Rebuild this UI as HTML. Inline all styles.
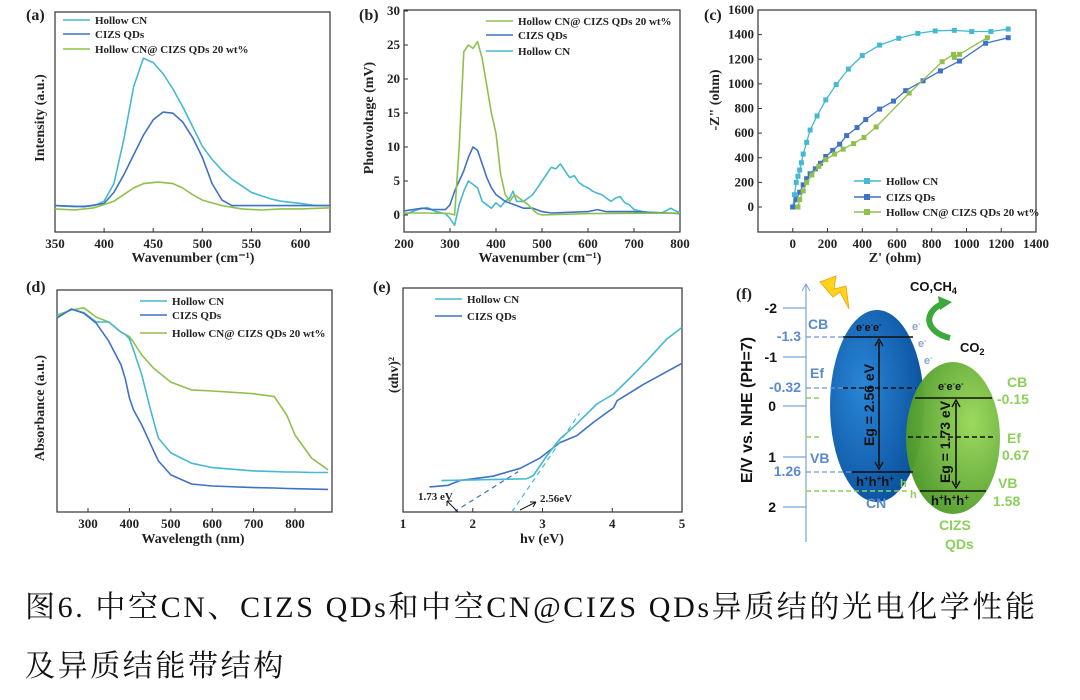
<!DOCTYPE html>
<html><head><meta charset="utf-8">
<style>
html,body{margin:0;padding:0;background:#fff;}
body{width:1080px;height:700px;overflow:hidden;position:relative;}
svg{position:absolute;left:0;top:0;}
.cap{position:absolute;left:25px;font-family:"Liberation Serif","Noto Serif CJK SC",serif;font-size:30px;color:#111;white-space:nowrap;letter-spacing:2.6px;}
</style></head>
<body>
<svg id="fig" width="1080" height="580" viewBox="0 0 1080 580" font-family="Liberation Serif, serif">
<defs>
<radialGradient id="gb" cx="0.35" cy="0.4" r="0.7"><stop offset="0" stop-color="#2a86d8"/><stop offset="1" stop-color="#0a4f9a"/></radialGradient>
<radialGradient id="gg" cx="0.7" cy="0.4" r="0.7"><stop offset="0" stop-color="#9ad85a"/><stop offset="1" stop-color="#4f9a2a"/></radialGradient>
</defs>
<g id="panels"></g>
<g font-family="Liberation Sans, sans-serif" font-weight="bold">
<line x1="806" y1="542" x2="806" y2="285" stroke="#7aa4d8" stroke-width="1.2"/>
<path d="M802,291 L806,284 L810,291" fill="none" stroke="#7aa4d8"/>
<g stroke="#7aa4d8" stroke-width="1.2">
<line x1="783" y1="308" x2="806" y2="308"/><line x1="783" y1="357" x2="806" y2="357"/><line x1="783" y1="406" x2="806" y2="406"/><line x1="783" y1="457" x2="806" y2="457"/><line x1="783" y1="507" x2="806" y2="507"/>
</g>
<g font-size="14" fill="#111" text-anchor="end">
<text x="777" y="313">-2</text><text x="777" y="362">-1</text><text x="776" y="411">0</text><text x="776" y="462">1</text><text x="776" y="512">2</text>
</g>
<text transform="translate(752,410) rotate(-90)" font-size="16" text-anchor="middle" fill="#111">E/V vs. NHE (PH=7)</text>
<text x="736" y="299" font-family="Liberation Serif, serif" font-size="16" fill="#222">(f)</text>
<polygon points="820,282 836,276 834,289 846,286 849,309 840,292 833,297" fill="#ffd21c" stroke="#f0a000" stroke-width="0.8"/>
<ellipse cx="877" cy="406" rx="47" ry="96" fill="url(#gb)"/>
<ellipse cx="953" cy="438" rx="47" ry="76" fill="url(#gg)" opacity="0.97"/>
<text x="910" y="291" font-size="13" fill="#111">CO,CH<tspan font-size="9" dy="3">4</tspan></text>
<path d="M944,303 C922,312 925,332 950,338" fill="none" stroke="#3aa83a" stroke-width="6"/>
<polygon points="938,296 952,302 940,310" fill="#3aa83a"/>
<text x="960" y="352" font-size="13" fill="#111">CO<tspan font-size="9" dy="3">2</tspan></text>
<g stroke="#6a98d6" stroke-width="1.2" stroke-dasharray="5,3">
<line x1="806" y1="337" x2="843" y2="337"/><line x1="806" y1="388" x2="843" y2="388"/><line x1="806" y1="472" x2="852" y2="472"/>
</g>
<g stroke="#8cd05a" stroke-width="1.4" stroke-dasharray="5,3">
<line x1="806" y1="398" x2="822" y2="398"/><line x1="806" y1="437" x2="822" y2="437"/><line x1="806" y1="491" x2="910" y2="491"/>
</g>
<g stroke="#111" stroke-width="1.6">
<line x1="843" y1="337" x2="913" y2="337"/><line x1="852" y1="472" x2="913" y2="472"/>
<line x1="915" y1="398" x2="992" y2="398"/><line x1="920" y1="491" x2="986" y2="491"/>
<line x1="843" y1="388" x2="916" y2="388" stroke-dasharray="5,3"/><line x1="908" y1="437" x2="996" y2="437" stroke-dasharray="5,3"/>
<line x1="879" y1="342" x2="879" y2="466"/><line x1="956" y1="403" x2="956" y2="485"/>
</g>
<path d="M875,346 L879,339 L883,346 M875,462 L879,469 L883,462 M952,407 L956,400 L960,407 M952,481 L956,488 L960,481" fill="none" stroke="#111" stroke-width="1.4"/>
<text transform="translate(874,405) rotate(-90)" font-size="14" text-anchor="middle" fill="#111">Eg = 2.56 eV</text>
<text transform="translate(950,442) rotate(-90)" font-size="14" text-anchor="middle" fill="#111">Eg = 1.73 eV</text>
<g font-size="11" fill="#111"><text x="856" y="331">e<tspan font-size="7" dy="-4">-</tspan><tspan dy="4">e</tspan><tspan font-size="7" dy="-4">-</tspan><tspan dy="4">e</tspan><tspan font-size="7" dy="-4">-</tspan></text>
<text x="938" y="390">e<tspan font-size="7" dy="-4">-</tspan><tspan dy="4">e</tspan><tspan font-size="7" dy="-4">-</tspan><tspan dy="4">e</tspan><tspan font-size="7" dy="-4">-</tspan></text></g>
<g font-size="13" fill="#111"><text x="856" y="486">h<tspan font-size="8" dy="-5">+</tspan><tspan dy="5">h</tspan><tspan font-size="8" dy="-5">+</tspan><tspan dy="5">h</tspan><tspan font-size="8" dy="-5">+</tspan></text>
<text x="931" y="505">h<tspan font-size="8" dy="-5">+</tspan><tspan dy="5">h</tspan><tspan font-size="8" dy="-5">+</tspan><tspan dy="5">h</tspan><tspan font-size="8" dy="-5">+</tspan></text></g>
<g font-size="11" fill="#8aa6cc"><text x="912" y="330">e<tspan font-size="7" dy="-4">-</tspan></text><text x="918" y="347">e<tspan font-size="7" dy="-4">-</tspan></text><text x="924" y="364">e<tspan font-size="7" dy="-4">-</tspan></text></g>
<g font-size="11" fill="#8cd05a"><text x="900" y="487">h</text><text x="910" y="498">h</text></g>
<g font-size="14" fill="#5a8ad0"><text x="808" y="329">CB</text><text x="801" y="341" text-anchor="end">-1.3</text><text x="810" y="378">Ef</text><text x="801" y="392" text-anchor="end">-0.32</text><text x="810" y="463">VB</text><text x="801" y="476" text-anchor="end">1.26</text><text x="866" y="508">CN</text></g>
<g font-size="14" fill="#8cd05a"><text x="1007" y="387">CB</text><text x="997" y="404">-0.15</text><text x="1007" y="443">Ef</text><text x="1002" y="460">0.67</text><text x="998" y="488">VB</text><text x="993" y="506">1.58</text><text x="939" y="530">CIZS</text><text x="945" y="549">QDs</text></g>
</g>
</svg>
<div class="cap" style="top:582px;">图6. 中空CN、CIZS QDs和中空CN@CIZS QDs异质结的光电化学性能</div>
<div class="cap" style="top:641px;">及异质结能带结构</div>
<script>
const aWave = [350,370,390,400,410,420,430,440,450,460,470,480,490,500,510,520,530,540,550,560,570,580,590,600,615,630];
const aHollow = [.12,.115,.12,.14,.22,.42,.66,.79,.77,.72,.65,.57,.48,.39,.33,.28,.24,.21,.18,.165,.15,.14,.135,.13,.12,.12];
const aCizsX = [350,380,400,410,420,430,440,450,460,470,480,490,500,510,520,530,630];
const aCizs = [.12,.115,.13,.18,.26,.35,.44,.51,.545,.54,.5,.43,.34,.22,.145,.12,.12];
const aGreenX = [350,370,390,400,410,420,430,440,455,470,480,490,500,520,540,560,580,600,630];
const aGreen = [.105,.1,.11,.125,.14,.17,.2,.22,.227,.22,.2,.17,.145,.12,.105,.1,.105,.105,.11];
const aTicks = [350,400,450,500,550,600];

const bGreenX = [200,250,300,310,320,330,340,350,360,370,380,390,400,410,420,430,440,450,460,470,480,490,500,600,800];
const bGreen = [.3,.3,.2,0,10,24,25,24.5,25.5,23,19,15,12,6,3,2,3,2.5,2,1.5,.8,.2,0,.2,.3];
const bCizsX = [200,240,260,290,300,310,320,330,340,350,360,370,380,390,400,420,440,460,480,500,520,600,620,640,700,800];
const bCizs = [.6,1,.8,.8,1.5,3.5,5,6.5,8.5,10,9.5,7.5,5.5,4,3,2,1.5,1,1,.5,.3,.5,.8,.5,.5,.2];
const bHollowX = [200,210,230,250,270,290,300,310,320,330,340,350,360,370,380,390,400,410,420,430,437,445,460,470,480,490,500,510,520,530,540,550,560,570,580,590,600,610,620,630,640,650,660,670,680,690,700,720,740,760,780,790,800];
const bHollow = [0,.3,.8,1.1,.5,.2,-.5,-1.5,1.5,3.5,5,4.5,4,2,1.5,1,1.8,1.2,2,2.5,3.5,2,2,2.5,3,4,5,6,7,6.8,7.5,6.5,5.5,5.8,4.8,4.3,4,3.5,3.2,3,2.5,2,2.5,2.7,1.8,1.5,.8,.5,.3,.3,1,.6,.4];
const bXTicks = [200,300,400,500,600,700,800];
const bYTicks = [0,5,10,15,20,25,30];

const cHollowX = [0,10,20,30,40,50,60,80,100,140,190,250,320,400,500,610,720,820,930,1030,1140,1240];
const cHollowY = [0,100,200,250,300,360,430,525,625,740,870,995,1120,1230,1315,1370,1410,1430,1435,1425,1425,1445];
const cCizsX = [0,20,40,60,80,100,130,160,190,230,270,310,370,420,500,580,650,750,850,960,1110,1240];
const cCizsY = [0,60,120,180,230,270,310,355,410,460,510,580,645,710,795,860,945,1025,1105,1185,1330,1375];
const cGreenX = [30,40,60,80,110,150,190,240,290,350,410,480,670,860,925,930,960,1120];
const cGreenY = [0,60,130,200,260,330,385,430,470,515,565,650,925,1180,1240,1215,1240,1375];
const cXTicks = [0,200,400,600,800,1000,1200,1400];
const cYTicks = [0,200,400,600,800,1000,1200,1400,1600];

const dX = [225,260,290,320,350,380,390,400,410,430,450,460,470,500,550,600,700,750,780,800,840,880];
const dGreen = [.887,.91,.92,.878,.856,.81,.8,.79,.765,.707,.665,.645,.63,.585,.55,.545,.533,.52,.437,.347,.243,.19];
const dHollow = [.878,.914,.898,.856,.856,.81,.8,.78,.73,.617,.468,.4,.333,.266,.22,.2,.185,.182,.18,.18,.178,.178];
const dCizs = [.874,.914,.895,.85,.77,.662,.6,.514,.46,.392,.31,.27,.23,.167,.126,.117,.11,.108,.106,.105,.103,.102];
const dTicks = [300,400,500,600,700,800];

const eCizsX = [1.38,1.65,1.81,2.29,2.68,2.96,3.25,3.49,3.73,4.02,4.07,4.45,5.0];
const eCizs = [.112,.119,.14,.16,.195,.24,.31,.34,.4,.466,.497,.57,.664];
const eHollowX = [1.55,2.77,2.87,3.06,3.25,3.44,3.78,4.02,4.26,4.5,4.78,5.0];
const eHollow = [.14,.148,.163,.25,.326,.378,.482,.527,.6,.676,.772,.824];
const eTicks = [1,2,3,4,5];

const C_CYAN='#45b9d2', C_BLUE='#3f72c4', C_GREEN='#8fc04c';
const NS='http://www.w3.org/2000/svg';
const root=document.getElementById('panels');
function mk(tag,attrs,parent){const e=document.createElementNS(NS,tag);for(const k in attrs)e.setAttribute(k,attrs[k]);(parent||root).appendChild(e);return e;}
function scale(d0,d1,r0,r1){return v=>r0+(v-d0)*(r1-r0)/(d1-d0);}
function line(xs,ys,sx,sy,color,name,w){
  const p=xs.map((x,i)=>(i?'L':'M')+sx(x).toFixed(1)+','+sy(ys[i]).toFixed(1)).join('');
  const el=mk('path',{d:p,fill:'none',stroke:color,'stroke-width':w||1.6,'stroke-linejoin':'round'});
  
  
  return el;
}
function box(x0,y0,x1,y1,name){
  const el=mk('rect',{x:x0,y:y0,width:x1-x0,height:y1-y0,fill:'none',stroke:'#333','stroke-width':1.2});
  
  
}
function txt(x,y,s,opt){
  const el=mk('text',Object.assign({x:x,y:y,'font-size':12,'font-weight':'bold',fill:'#222'},opt||{}));
  el.textContent=s;
  return el;
}
function xticks(ticks,sx,y){
  ticks.forEach(t=>{mk('line',{x1:sx(t),x2:sx(t),y1:y,y2:y-4,stroke:'#333'});
    const el=txt(sx(t),y+16,String(t),{'text-anchor':'middle','font-size':13});
    
    });
}
function yticks(ticks,sy,x){
  ticks.forEach(t=>{mk('line',{x1:x,x2:x+4,y1:sy(t),y2:sy(t),stroke:'#333'});
    const el=txt(x-4,sy(t)+4,String(t),{'text-anchor':'end','font-size':13});
    
    });
}
function legend(x,ys,colors,labels,name,marker){
  labels.forEach((l,i)=>{mk('line',{x1:x,x2:x+27,y1:ys[i],y2:ys[i],stroke:colors[i],'stroke-width':1.6});
    if(marker)mk('rect',{x:x+10,y:ys[i]-3,width:6,height:6,fill:colors[i]});
    const el=txt(x+32,ys[i]+4,l,{'font-size':11});
    
    });
}
function label(x,y,s){const el=txt(x,y,s,{'font-size':16});
  
  }
function ytitle(x,y,s){const el=txt(0,0,s,{'font-size':14,'text-anchor':'middle',transform:`translate(${x},${y}) rotate(-90)`});
  
  return el;}
function xtitle(x,y,s){const el=txt(x,y,s,{'font-size':14,'text-anchor':'middle'});
  
  return el;}

{const sx=scale(350,630,55,330), sy=scale(0,1,232,12);
box(55,12,330,232,'panel-a-frame');
line(aWave,aHollow,sx,sy,C_CYAN,'a-hollow-cn');
line(aCizsX,aCizs,sx,sy,C_BLUE,'a-cizs-qds');
line(aGreenX,aGreen,sx,sy,C_GREEN,'a-composite');
xticks(aTicks,sx,232);
legend(63,[20,34,49],[C_CYAN,C_BLUE,C_GREEN],['Hollow CN','CIZS QDs','Hollow CN@ CIZS QDs 20 wt%'],'a-legend');
label(26,20,'(a)');ytitle(44,118,'Intensity (a.u.)');
xtitle(193,262,'Wavenumber (cm⁻¹)');}
{const sx=scale(200,800,404,680), sy=scale(0,30,215,11);
box(404,10,680,232,'panel-b-frame');
line(bHollowX,bHollow,sx,sy,C_CYAN,'b-hollow-cn');
line(bCizsX,bCizs,sx,sy,C_BLUE,'b-cizs-qds');
line(bGreenX,bGreen,sx,sy,C_GREEN,'b-composite');
xticks(bXTicks,sx,232);yticks(bYTicks,sy,404);
legend(486,[21,35,51],[C_GREEN,C_BLUE,C_CYAN],['Hollow CN@  CIZS QDs 20 wt%','CIZS QDs','Hollow CN'],'b-legend');
label(359,20,'(b)');ytitle(373,118,'Photovoltage (mV)');
xtitle(540,262,'Wavenumber (cm⁻¹)');}
{const sx=scale(-200,1400,758,1036), sy=scale(0,1600,207,10);
box(758,10,1036,232,'panel-c-frame');
[[cHollowX,cHollowY,C_CYAN,'c-hollow-cn'],[cCizsX,cCizsY,C_BLUE,'c-cizs-qds'],[cGreenX,cGreenY,C_GREEN,'c-composite']].forEach(s=>{
  line(s[0],s[1],sx,sy,s[2],s[3],1.3);
  s[0].forEach((x,i)=>{const m=mk('rect',{x:sx(x)-2.5,y:sy(s[1][i])-2.5,width:5,height:5,fill:s[2]});
    
    });
});
xticks(cXTicks,sx,232);yticks(cYTicks,sy,758);
legend(854,[181,197,212],[C_CYAN,C_BLUE,C_GREEN],['Hollow CN','CIZS QDs','Hollow CN@ CIZS QDs 20 wt%'],'c-legend',true);
label(704,20,'(c)');ytitle(719,100,'-Z" (ohm)');
xtitle(895,262,"Z' (ohm)");}
{const sx=scale(300,800,88,295), sy=scale(0,1,512,290);
box(57,290,332,512,'panel-d-frame');
line(dX,dGreen,sx,sy,C_GREEN,'d-composite');
line(dX,dHollow,sx,sy,C_CYAN,'d-hollow-cn');
line(dX,dCizs,sx,sy,C_BLUE,'d-cizs-qds');
xticks(dTicks,sx,512);
legend(140,[301,315,333],[C_CYAN,C_BLUE,C_GREEN],['Hollow CN','CIZS QDs','Hollow CN@ CIZS QDs 20 wt%'],'d-legend');
label(26,292,'(d)');ytitle(44,408,'Absorbance (a.u.)');
xtitle(193,543,'Wavelength (nm)');}
{const sx=scale(1,5,403,682), sy=scale(0,1,512,288);
box(403,288,682,512,'panel-e-frame');
line(eCizsX,eCizs,sx,sy,C_BLUE,'e-cizs-qds');
line(eHollowX,eHollow,sx,sy,C_CYAN,'e-hollow-cn');
let d1=mk('line',{x1:sx(1.73),y1:sy(0),x2:sx(2.65),y2:sy(.18),stroke:C_BLUE,'stroke-dasharray':'5,4','stroke-width':1.2});


let d2=mk('line',{x1:sx(2.56),y1:sy(0),x2:sx(3.53),y2:sy(.44),stroke:C_CYAN,'stroke-dasharray':'5,4','stroke-width':1.2});


xticks(eTicks,sx,512);
legend(435,[299,316],[C_CYAN,C_BLUE],['Hollow CN','CIZS QDs'],'e-legend');
txt(418,500,'1.73 eV',{'font-size':11});txt(540,502,'2.56eV',{'font-size':11});
mk('path',{d:'M458,512 L447,501 M447,501 L447,506 M447,501 L452,501',stroke:'#111',fill:'none'});
mk('path',{d:'M520,510 L536,502 M536,502 L530,502 M536,502 L533,507',stroke:'#111',fill:'none'});
label(373,292,'(e)');ytitle(398,375,'(αhv)²');
xtitle(542,543,'hv (eV)');}
</script>
</body></html>
